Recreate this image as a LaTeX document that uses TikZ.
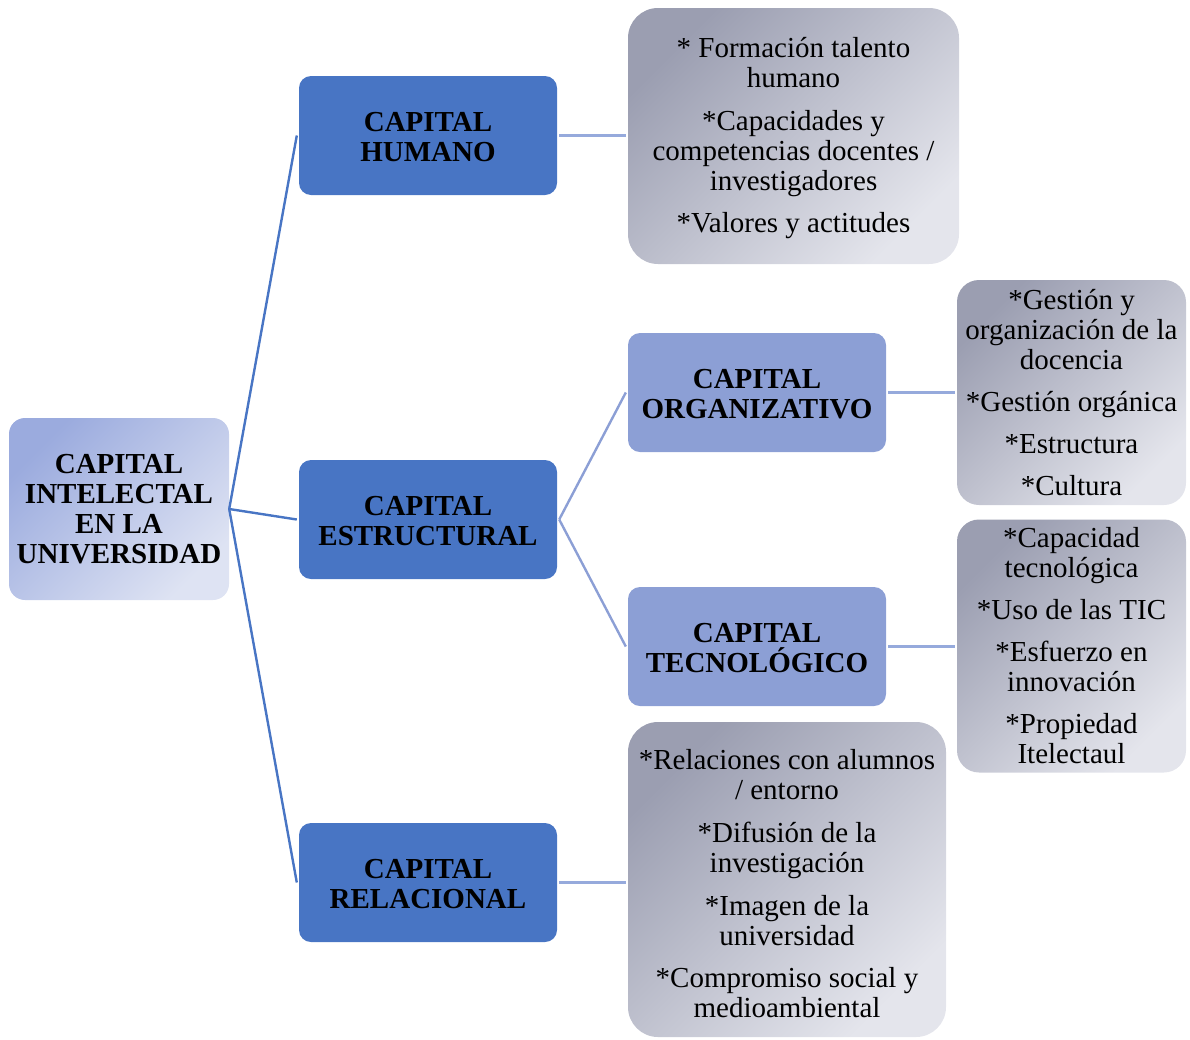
\documentclass[tikz,border=0pt]{standalone}
\usepackage{fontspec}
\setmainfont{Liberation Serif}
% fixed top and bottom struts so every text block sits at a known place
\newcommand\firstln[1][26pt]{\rule{0pt}{#1}}
\newcommand\lastln{\rule[-9pt]{0pt}{0pt}}
\begin{document}
\begin{tikzpicture}[x=1pt,y=1pt,
  txt/.style={font=\fontsize{29}{30}\selectfont, align=center, text=black, inner sep=0pt},
  hdr/.style={txt, font=\fontsize{29}{30}\selectfont\bfseries},
  mainbox/.style={hdr, rounded corners=12pt, fill=main, minimum width=258, minimum height=119},
  subbox/.style={hdr, rounded corners=12pt, fill=sub, minimum width=258, minimum height=119},
  rootbox/.style={hdr, rounded corners=16pt, shading=axis, top color=rootA, bottom color=rootB, shading angle=45,
    minimum width=220, minimum height=182},
  detail/.style={txt, shading=axis, top color=grayA, bottom color=grayB, shading angle=45},
  link/.style={line width=2.4pt},
]
\definecolor{main}{RGB}{72,117,196}
\definecolor{sub}{RGB}{140,159,213}
\definecolor{rootA}{RGB}{155,171,222}
\definecolor{rootB}{RGB}{222,227,243}
\definecolor{grayA}{RGB}{155,158,177}
\definecolor{grayB}{RGB}{228,229,236}
\definecolor{linkA}{RGB}{72,117,196}
\definecolor{linkB}{RGB}{140,159,213}
\definecolor{linkC}{RGB}{150,170,220}

\useasboundingbox (0,0) rectangle (1190,-1039);

% root
\node[rootbox] (root) at (119,-509) {\firstln[28pt]CAPITAL\\INTELECTAL\\EN LA\\UNIVERSIDAD\lastln};

% first level
\node[mainbox] (hum) at (428,-135.5) {\firstln[30pt]CAPITAL\\HUMANO\lastln};
\node[mainbox] (est) at (428,-519.5) {\firstln[30pt]CAPITAL\\ESTRUCTURAL\lastln};
\node[mainbox] (rel) at (428,-882.5) {\firstln[30pt]CAPITAL\\RELACIONAL\lastln};

% second level
\node[subbox] (org) at (757,-392.5) {\firstln[30pt]CAPITAL\\ORGANIZATIVO\lastln};
\node[subbox] (tec) at (757,-646.5) {\firstln[30pt]CAPITAL\\TECNOL\'OGICO\lastln};

% detail boxes
\node[detail, rounded corners=30pt, minimum width=331, minimum height=256] (humd) at (793.5,-136)
  {\firstln * Formación talento\\humano\\[13pt]*Capacidades y\\competencias docentes /\\investigadores\\[12pt]*Valores y actitudes\lastln};
\node[detail, rounded corners=22pt, minimum width=229, minimum height=225] (orgd) at (1071.5,-392.5)
  {\firstln[28pt]*Gestión y\\organización de la\\docencia\\[12pt]*Gestión orgánica\\[12pt]*Estructura\\[12pt]*Cultura\lastln};
\node[detail, rounded corners=22pt, minimum width=229, minimum height=250] (tecd) at (1071.5,-646)
  {\firstln[28pt]*Capacidad\\tecnológica\\[12pt]*Uso de las TIC\\[12pt]*Esfuerzo en\\innovación\\[12pt]*Propiedad\\Itelectaul\lastln};
\node[detail, rounded corners=30pt, minimum width=318, minimum height=315] (reld) at (787,-879.5)
  {\firstln[36pt]*Relaciones con alumnos\\/ entorno\\[13pt]*Difusión de la\\investigación\\[13pt]*Imagen de la\\universidad\\[12pt]*Compromiso social y\\medioambiental\lastln};

% connectors
\draw[link, linkA] (root.east) -- ([xshift=-2pt]hum.west);
\draw[link, linkA] (root.east) -- ([xshift=-2pt]est.west);
\draw[link, linkA] (root.east) -- ([xshift=-2pt]rel.west);
\draw[link, linkB] ([xshift=2pt]est.east) -- ([xshift=-2pt]org.west);
\draw[link, linkB] ([xshift=2pt]est.east) -- ([xshift=-2pt]tec.west);
\draw[link, linkC] ([xshift=2pt]hum.east) -- ([xshift=-2pt]humd.west |- hum.east);
\draw[link, linkC] ([xshift=2pt]rel.east) -- ([xshift=-2pt]reld.west |- rel.east);
\draw[link, linkC] ([xshift=2pt]org.east) -- ([xshift=-2pt]orgd.west |- org.east);
\draw[link, linkC] ([xshift=2pt]tec.east) -- ([xshift=-2pt]tecd.west |- tec.east);
\end{tikzpicture}
\end{document}
